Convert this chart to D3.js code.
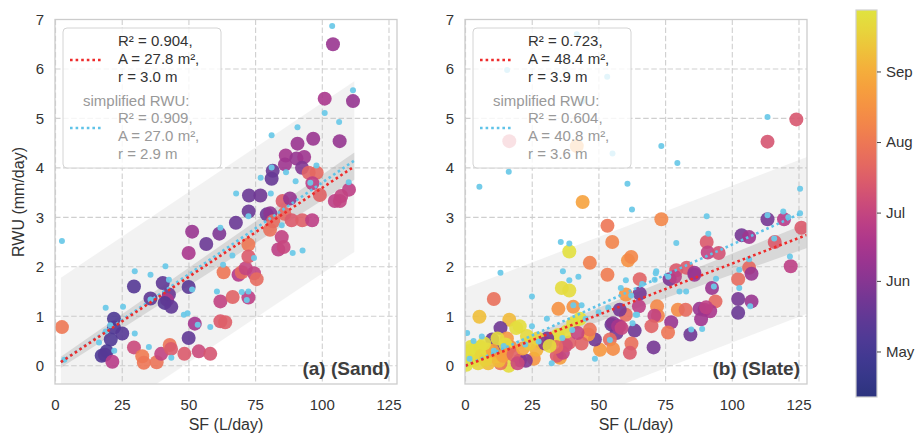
<!DOCTYPE html>
<html>
<head>
<meta charset="utf-8">
<script src="https://cdn.jsdelivr.net/npm/d3@7/dist/d3.min.js"></script>
<style>
  body { margin: 0; background: #fff; }
  text { font-family: "Liberation Sans", Arial, sans-serif; }
</style>
</head>
<body>
<svg id="chart" width="920" height="437"></svg>
<script>
// observed RWU: [SF (L/day), RWU (mm/day), day of year]
var sandObs = [
  [2.4,0.78,213],[21.9,0.95,125],[21.9,0.77,128],[25,0.65,130],[20.7,0.53,127],[19.2,0.29,124],
  [17.3,0.20,126],[18.5,0.22,130],[21.3,0.08,175],[29.4,1.6,130],[29.4,0.37,185],[32.5,0.19,215],
  [33.1,0.06,212],[37.9,0.07,210],[35.6,1.36,135],[39.6,0.24,180],[40.2,1.67,135],[42.5,1.44,140],
  [41.8,1.33,170],[40.9,1.27,130],[43.4,1.19,135],[42.8,0.42,210],[43.3,0.34,195],[48.3,0.24,195],
  [49.9,2.28,168],[49.9,1.59,133],[49.9,0.56,135],[51.2,2.71,160],[52.2,0.85,165],[53.7,0.29,185],
  [56.5,2.46,140],[58.0,0.24,192],[61.4,2.67,148],[61.8,1.30,180],[61.8,0.90,195],[63.6,0.88,198],
  [63.0,1.89,212],[66.4,1.39,200],[67.6,2.89,140],[68.6,1.84,172],[69.8,1.89,205],[71.3,1.97,182],
  [72.3,2.45,213],[72.3,2.21,195],[72.3,1.38,178],[72.4,3.12,140],[74.4,1.87,180],[75.4,1.75,205],
  [79.2,3.06,140],[80.5,3.08,155],[80.4,2.75,208],[81.6,2.92,205],[85.1,3.33,197],[85.8,3.07,203],
  [84.8,2.60,180],[83.5,2.35,178],[85.5,2.40,183],[88.5,2.94,195],[92.5,2.94,198],[96.2,2.94,178],
  [104.7,3.33,178],[106.6,3.33,180],[104.0,6.50,160],[100.9,5.40,168],[111.5,5.35,158],[106.5,4.54,158],
  [96.6,4.59,160],[90.7,4.49,160],[86.3,4.25,165],[86.0,4.07,162],[90.3,4.19,158],[93.2,4.22,162],
  [92.4,4.0,150],[81.4,3.94,140],[81.0,3.78,138],[94.9,3.90,200],[97.9,3.90,203],[96.3,3.69,178],
  [99.1,3.45,200],[110.0,3.56,178],[107.1,3.43,180],[87.9,3.38,158],[72.5,3.44,140],[76.8,3.44,142]
];
// simplified RWU: [SF (L/day), RWU (mm/day)]
var sandSimple = [
  [2.4,2.52],[18.8,1.17],[25.3,1.19],[29.7,1.91],[29.7,0.65],[35.6,1.84],[35.0,0.38],[41.2,2.01],
  [42.5,1.74],[43.4,0.16],[48.1,1.03],[49.5,1.06],[51.2,1.54],[53.3,0.83],[58.0,0.78],[61.8,2.79],
  [62.8,2.04],[66.3,2.23],[69.8,1.49],[72.3,1.50],[71.7,1.33],[74.4,2.18],[72.3,3.02],[88.9,2.28],
  [92.6,2.33],[84.8,2.84],[103.7,6.87],[111.5,5.57],[100.9,5.11],[106.3,4.93],[81.0,4.66],[90.7,4.82],
  [97.8,4.05],[81.0,4.01],[86.4,3.91],[90.0,3.73],[67.7,3.48],[76.9,3.80],[80.7,3.48],[109.9,3.71],
  [35.6,1.34],[16.3,0.47],[18.8,0.69],[20.5,0.82],[3.3,0.12],[22.0,0.30],[95.5,3.70],[60.5,1.50]
];
var slateObs = [
  [16.4,4.54,195],[41.7,4.44,235],[43.9,3.31,238],[113.2,4.53,192],[124.0,4.98,193],[73.4,2.96,222],
  [113.2,2.96,145],[119.4,2.96,175],[125.9,2.79,195],[121.9,2.01,178],[115.9,2.50,195],[103.5,2.64,145],
  [106.3,2.60,162],[106.3,1.98,203],[107.2,1.86,160],[102.2,1.75,205],[102.2,1.35,145],[107.2,1.30,160],
  [102.2,1.07,140],[90.4,2.50,195],[90.8,2.29,180],[94.9,2.28,190],[92.4,1.57,160],[93.7,1.30,203],
  [89.6,1.13,175],[91.7,1.10,168],[88.3,0.94,163],[84.3,0.63,142],[82.9,1.98,195],[85.8,1.88,160],
  [79.0,1.93,195],[76.5,1.75,148],[78.5,1.80,178],[79.6,1.13,225],[82.5,1.13,205],[77.1,0.88,160],
  [75.9,0.67,212],[71.8,1.20,222],[72.1,1.01,220],[70.8,1.01,180],[69.7,0.80,200],[70.5,0.37,145],
  [65.3,1.75,200],[65.3,1.46,145],[65.0,1.20,178],[63.4,0.71,142],[62.2,0.45,208],[61.6,0.26,195],
  [60.1,1.44,230],[60.1,1.03,205],[57.8,0.80,180],[56.6,0.66,145],[54.7,0.83,140],[57.8,1.13,145],
  [54.1,0.53,205],[55.3,0.34,225],[50.4,0.32,232],[48.5,0.53,143],[46.0,0.63,232],[46.6,0.73,210],
  [43.5,0.45,200],[38.9,0.47,198],[40.4,1.19,228],[34.8,1.15,228],[36.1,1.57,266],[38.9,1.52,266],
  [38.9,2.31,269],[46.6,2.08,218],[53.2,2.83,212],[55.0,2.50,220],[53.2,1.84,215],[60.9,2.13,228],
  [62.1,2.20,222],[10.6,1.35,208],[5.2,0.99,252],[16.4,0.93,250],[13.1,0.76,142],[10.0,0.53,140],
  [19.0,0.76,267],[20.3,0.80,268],[28.6,0.46,268],[33.4,0.53,266],[34.6,0.62,268],[37.9,0.69,267],
  [40.4,0.86,268],[42.9,0.95,269],[30.6,0.55,145],[25.6,0.14,230],[35.4,0.16,235],[34.2,0.20,195],
  [36.5,0.26,180],[37.6,0.41,190],[42.0,0.66,182],[34.0,0.38,205],[26.6,0.32,245],[20.4,0.11,178],
  [22.6,0.10,150],[16.2,0.00,266],[13.1,0.05,210],[16.8,0.38,228],[15.5,0.55,232],[8.5,0.05,252],
  [4.7,0.05,262],[11.7,0.19,266],[1.9,0.38,268],[2.5,0.19,269],[0.6,0.12,270],[1.3,0.29,268],
  [4.4,0.30,266],[5.6,0.38,258],[6.8,0.29,265],[9.4,0.19,252],[11.4,0.34,145],[15.0,0.43,268],
  [15.5,0.26,230],[0.3,0.02,270],[1.0,0.22,269],[3.2,0.12,266],[3.5,0.35,269],[6.0,0.20,263],
  [7.5,0.12,260],[8.0,0.33,266],[12.5,0.10,250],[14.0,0.20,235],[18.0,0.22,200],[19.5,0.05,185],
  [21.5,0.35,240],[24.0,0.45,255],[27.0,0.55,262],[29.8,0.45,150],[31.5,0.40,266],[23.0,0.60,265],
  [12.0,0.55,266],[10.2,0.30,238],[7.0,0.45,268],[55.3,0.86,150],[57.2,0.80,165],[58.5,0.76,182],
  [87.7,1.15,160],[90.2,1.18,178],[85.8,1.84,160]
];
var slateSimple = [
  [41.7,6.70],[15.6,5.98],[53.1,5.84],[43.8,5.35],[113.2,5.03],[73.4,4.44],[55.1,4.29],[79.4,4.10],
  [16.2,3.92],[5.2,3.62],[60.7,3.68],[125.4,3.58],[62.4,3.16],[90.4,3.02],[113.2,3.04],[119.1,3.12],
  [125.4,3.08],[121.0,3.00],[13.1,1.88],[24.9,1.40],[35.7,2.50],[38.9,2.47],[36.5,1.91],[38.9,1.73],
  [42.3,1.80],[40.4,1.22],[43.5,1.22],[30.5,0.95],[24.9,0.80],[32.3,0.05],[48.5,0.14],[54.1,0.52],
  [53.5,1.17],[58.2,1.57],[60.1,1.73],[62.1,1.42],[64.3,1.03],[66.2,1.65],[70.9,1.74],[71.5,1.91],
  [76.0,1.80],[79.0,2.48],[80.2,1.50],[82.7,1.50],[91.0,2.67],[93.9,1.76],[88.7,0.74],[102.6,1.57],
  [102.6,1.94],[106.3,2.15],[106.7,1.20],[121.6,2.21],[115.7,2.57],[0.6,0.66],[6.1,0.59],[3.0,0.50],
  [10.6,0.30],[14.3,0.40],[22.4,0.43],[27.4,0.49],[36.3,0.56],[40.0,0.72],[45.0,0.95],[49.9,1.08],
  [62.6,0.86],[63.8,1.03],[84.6,0.73],[1.5,0.14],[93.1,1.60],[71.3,1.87]
];

var panelNames = ["(a) (Sand)", "(b) (Slate)"];
var fitR2 = [0.904, 0.723], fitArea = [27.8, 48.4], fitRadius = [3.0, 3.9];
var simpleR2 = [0.909, 0.604], simpleArea = [27.0, 40.8], simpleRadius = [2.9, 3.6];
var fitRange = [[2, 112], [0, 128]];
var simpleRange = [[2, 112], [0, 126]];
// bands: [SF, lower, upper] at both ends
var predBand = [[[2, -1.66, 1.78], [112, 2.30, 5.75]], [[0, -1.60, 1.57], [128, 1.05, 4.22]]];
var confBand = [[[2, -0.04, 0.18], [112, 3.76, 4.31]], [[0, -0.06, 0.08], [128, 2.38, 2.88]]];

var xTicks = [0, 25, 50, 75, 100, 125];
var yTicks = [0, 1, 2, 3, 4, 5, 6, 7];
var monthNames = ["May", "Jun", "Jul", "Aug", "Sep"];
var monthDays = [121, 152, 182, 213, 244];
var dayRange = [101, 271];

var cmapStops = ["#2c337e", "#3b3990", "#4f3a96", "#6a3895", "#8a3591", "#a8348f", "#c03f85",
  "#d7566f", "#e86c5e", "#f2814c", "#f7983f", "#f6ad3a", "#ebce3a", "#e0e33f"];
var color = d3.scaleSequential(d3.interpolateRgbBasis(cmapStops)).domain(dayRange);

var svg = d3.select("#chart");
var plotTop = 19.5, plotBottom = 384, pw = 342;
var lefts = [55, 465];
var obsSets = [sandObs, slateObs], simpleSets = [sandSimple, slateSimple];
var y = d3.scaleLinear().domain([-0.37, 7]).range([plotBottom, plotTop]);
var red = "#ee2b2b", blue = "#5fc3e8", dotBlue = "#6dc9e8";

lefts.forEach(function(left, i) {
  var x = d3.scaleLinear().domain([-0.2, 128]).range([left, left + pw]);
  var g = svg.append("g");

  svg.append("clipPath").attr("id", "clip" + i)
    .append("rect").attr("x", left).attr("y", plotTop).attr("width", pw).attr("height", plotBottom - plotTop);

  // grid
  g.append("g").selectAll("line").data(yTicks).enter().append("line")
    .attr("x1", left).attr("x2", left + pw)
    .attr("y1", function(d) { return y(d); }).attr("y2", function(d) { return y(d); })
    .attr("stroke", "#cfcfcf").attr("stroke-width", 1.1).attr("stroke-dasharray", "5.5,2.6");
  g.append("g").selectAll("line").data(xTicks).enter().append("line")
    .attr("y1", plotTop).attr("y2", plotBottom)
    .attr("x1", function(d) { return x(d); }).attr("x2", function(d) { return x(d); })
    .attr("stroke", "#cfcfcf").attr("stroke-width", 1.1).attr("stroke-dasharray", "5.5,2.6");

  var plot = g.append("g").attr("clip-path", "url(#clip" + i + ")");

  var band = d3.area()
    .x(function(d) { return x(d[0]); })
    .y0(function(d) { return y(d[1]); })
    .y1(function(d) { return y(d[2]); });
  plot.append("path").datum(predBand[i]).attr("d", band)
    .attr("fill", "#bdbdbd").attr("fill-opacity", 0.2);
  plot.append("path").datum(confBand[i]).attr("d", band)
    .attr("fill", "#9a9a9a").attr("fill-opacity", 0.3);

  plot.append("g").selectAll("circle").data(obsSets[i]).enter().append("circle")
    .attr("cx", function(d) { return x(d[0]); })
    .attr("cy", function(d) { return y(d[1]); })
    .attr("r", 7)
    .attr("fill", function(d) { return color(d[2]); })
    .attr("fill-opacity", 0.9);

  plot.append("g").selectAll("circle").data(simpleSets[i]).enter().append("circle")
    .attr("cx", function(d) { return x(d[0]); })
    .attr("cy", function(d) { return y(d[1]); })
    .attr("r", 3)
    .attr("fill", dotBlue)
    .attr("fill-opacity", 0.95);

  var line = d3.line().x(function(d) { return x(d[0]); }).y(function(d) { return y(d[1]); });
  plot.append("path")
    .datum(simpleRange[i].map(function(v) { return [v, v / simpleArea[i]]; }))
    .attr("d", line).attr("fill", "none").attr("stroke", blue)
    .attr("stroke-width", 2.6).attr("stroke-dasharray", "2.6,3");
  plot.append("path")
    .datum(fitRange[i].map(function(v) { return [v, v / fitArea[i]]; }))
    .attr("d", line).attr("fill", "none").attr("stroke", red)
    .attr("stroke-width", 2.6).attr("stroke-dasharray", "2.6,3");

  // frame
  g.append("rect").attr("x", left).attr("y", plotTop).attr("width", pw).attr("height", plotBottom - plotTop)
    .attr("fill", "none").attr("stroke", "#cccccc").attr("stroke-width", 1.3);

  // tick labels
  g.append("g").selectAll("text").data(yTicks).enter().append("text")
    .attr("x", left - 11).attr("y", function(d) { return y(d); }).attr("dy", "0.36em")
    .attr("text-anchor", "end").attr("font-size", 15).attr("fill", "#333")
    .text(function(d) { return d; });
  g.append("g").selectAll("text").data(xTicks).enter().append("text")
    .attr("x", function(d) { return x(d); }).attr("y", 410)
    .attr("text-anchor", "middle").attr("font-size", 15).attr("fill", "#333")
    .text(function(d) { return d; });

  g.append("text").attr("x", left + pw / 2).attr("y", 430)
    .attr("text-anchor", "middle").attr("font-size", 16).attr("fill", "#333")
    .text("SF (L/day)");
  if (i === 0) {
    g.append("text").attr("transform", "translate(24," + 202 + ") rotate(-90)")
      .attr("text-anchor", "middle").attr("font-size", 16).attr("fill", "#333")
      .text("RWU (mm/day)");
  }

  g.append("text").attr("x", left + pw - 7).attr("y", 375)
    .attr("text-anchor", "end").attr("font-size", 19).attr("font-weight", "bold").attr("fill", "#3d3d3d")
    .text(panelNames[i]);

  // legend
  var lg = g.append("g").attr("transform", "translate(" + (left + 8) + ",28)");
  lg.append("rect").attr("width", 158).attr("height", 140).attr("rx", 4)
    .attr("fill", "#fff").attr("fill-opacity", 0.8).attr("stroke", "#d4d4d4");
  lg.append("line").attr("x1", 7).attr("x2", 40).attr("y1", 32).attr("y2", 32)
    .attr("stroke", red).attr("stroke-width", 2.6).attr("stroke-dasharray", "2.6,3");
  lg.append("line").attr("x1", 7).attr("x2", 40).attr("y1", 100).attr("y2", 100)
    .attr("stroke", blue).attr("stroke-width", 2.6).attr("stroke-dasharray", "2.6,3");
  var fitLines = ["R\u00b2 = " + fitR2[i].toFixed(3) + ",", "A = " + fitArea[i].toFixed(1) + " m\u00b2,",
    "r = " + fitRadius[i].toFixed(1) + " m"];
  var simpleLines = ["R\u00b2 = " + simpleR2[i].toFixed(3) + ",", "A = " + simpleArea[i].toFixed(1) + " m\u00b2,",
    "r = " + simpleRadius[i].toFixed(1) + " m"];
  lg.selectAll("text.fit").data(fitLines).enter().append("text").attr("class", "fit")
    .attr("x", 55).attr("y", function(d, k) { return 18 + k * 18; })
    .attr("font-size", 15).attr("fill", "#333").text(function(d) { return d; });
  lg.append("text").attr("x", 20).attr("y", 78).attr("font-size", 15).attr("fill", "#999")
    .text("simplified RWU:");
  lg.selectAll("text.simple").data(simpleLines).enter().append("text").attr("class", "simple")
    .attr("x", 55).attr("y", function(d, k) { return 95 + k * 18; })
    .attr("font-size", 15).attr("fill", "#999").text(function(d) { return d; });
});

// colorbar
var cbX = 856, cbW = 21, cbTop = 10, cbBottom = 397;
var grad = svg.append("defs").append("linearGradient").attr("id", "cbar")
  .attr("x1", 0).attr("y1", 1).attr("x2", 0).attr("y2", 0);
d3.range(0, 1.0001, 0.05).forEach(function(t) {
  grad.append("stop").attr("offset", t)
    .attr("stop-color", color(dayRange[0] + t * (dayRange[1] - dayRange[0])));
});
svg.append("rect").attr("x", cbX).attr("y", cbTop).attr("width", cbW).attr("height", cbBottom - cbTop)
  .attr("fill", "url(#cbar)").attr("stroke", "#d0d0d0").attr("stroke-width", 1.2);
var cbScale = d3.scaleLinear().domain(dayRange).range([cbBottom, cbTop]);
var cbAxis = svg.append("g").attr("transform", "translate(" + (cbX + cbW) + ",0)")
  .call(d3.axisRight(cbScale).tickValues(monthDays).tickSize(4).tickPadding(5)
    .tickFormat(function(d, k) { return monthNames[k]; }));
cbAxis.select(".domain").remove();
cbAxis.selectAll("line").attr("stroke", "#444");
cbAxis.selectAll("text").attr("font-size", 15).attr("fill", "#333")
  .attr("font-family", "Liberation Sans, Arial, sans-serif");
</script>
</body>
</html>
